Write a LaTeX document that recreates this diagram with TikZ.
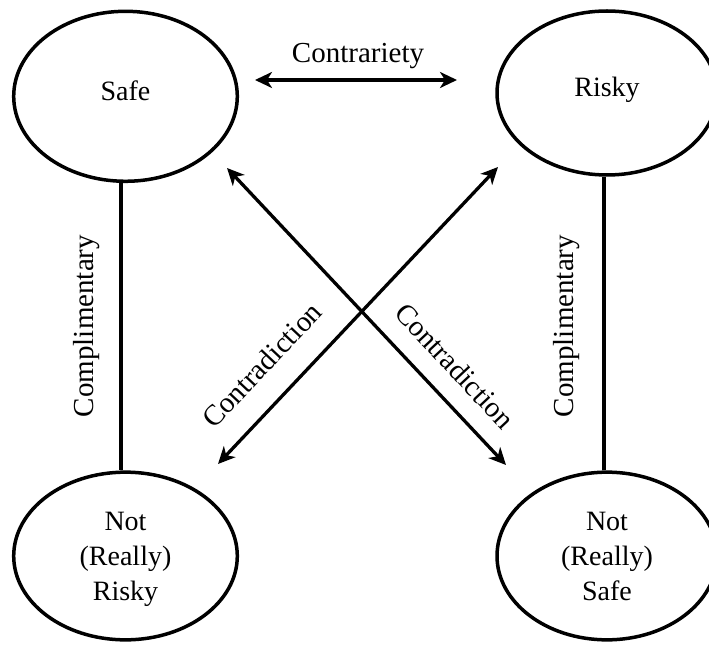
\documentclass[tikz,border=0pt]{standalone}
\usepackage{fontspec}
\setmainfont{Liberation Serif}
\usetikzlibrary{arrows.meta,shapes.geometric}
\begin{document}
\begin{tikzpicture}[x=1pt,y=1pt,
  lbl/.style={font=\fontsize{29}{35}\selectfont, inner sep=0pt},
  state/.style={draw, ellipse, line width=3.5pt, inner sep=0pt, align=center,
    font=\fontsize{28}{35}\selectfont},
  link/.style={line width=3.5pt},
  tip/.tip={Stealth[length=17pt,width=16pt,inset=5pt]},
  arr/.style={line width=3.3pt, tip-tip}
]
\useasboundingbox (0,0) rectangle (709,646);
% states
\node[state, minimum width=223.6pt, minimum height=170pt, text depth=12pt] (S) at (125.5,549.7) {Safe};
\node[state, minimum width=220pt, minimum height=164pt, text depth=12pt] (R) at (607,553) {Risky};
\node[state, minimum width=223.6pt, minimum height=167.7pt, text height=95pt, text depth=6pt] (NR) at (125.5,90) {Not\\(Really)\\Risky};
\node[state, minimum width=220pt, minimum height=167.7pt, text height=95pt, text depth=6pt] (NS) at (607,90) {Not\\(Really)\\Safe};
% complementary links
\draw[link] ([xshift=-4.5pt]S.south) -- ([xshift=-4.5pt]NR.north);
\draw[link] ([xshift=-3pt]R.south) -- ([xshift=-3pt]NS.north);
\node[lbl, rotate=90, anchor=base] (cl) at (93.3,320) {Complimentary};
\node[lbl, rotate=90, anchor=base] (cr) at (573.3,320) {Complimentary};
% contrariety
\coordinate (ca) at (255,566);
\coordinate (cb) at (457,566);
\draw[arr] (ca) -- (cb);
\node[lbl, anchor=base] (ct) at (358,583) {Contrariety};
% contradictions
\coordinate (d1a) at (227,478);
\coordinate (d1b) at (506,181);
\coordinate (d2a) at (498,479);
\coordinate (d2b) at (218,182);
\draw[arr] (d1a) -- (d1b);
\draw[arr] (d2a) -- (d2b);
\node[lbl, rotate=46.7] (kl) at (262,281) {Contradiction};
\node[lbl, rotate=-46.8] (kr) at (455,280) {Contradiction};
\end{tikzpicture}
\end{document}
